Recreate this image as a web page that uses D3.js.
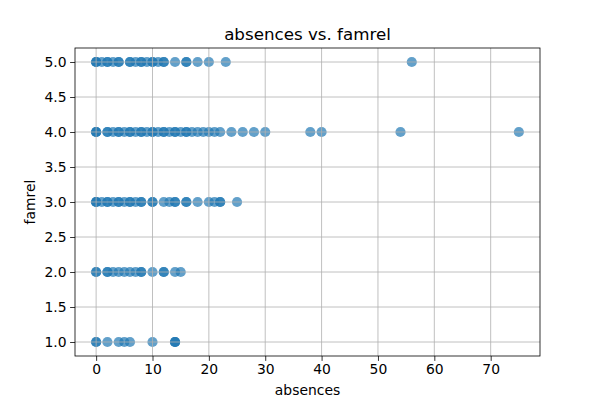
<!DOCTYPE html>
<html><head><meta charset="utf-8">
<script src="https://cdn.jsdelivr.net/npm/d3@7"></script>
<style>body{margin:0;background:#fff}svg{display:block}text{font-family:"DejaVu Sans",sans-serif;fill:#000}</style>
</head><body><svg id="c" width="600" height="400"></svg>
<script>
// absences values observed for each famrel level (duplicates = overlapping darker marks)
const famrel1 = [0,0,2,4,5,6,10,14,14,14];
const famrel2 = [0,0,2,2,3,4,5,6,7,8,8,10,12,12,14,15];
const famrel3 = [0,0,0,1,2,2,3,4,4,5,6,6,7,8,8,10,10,12,13,14,14,16,16,18,20,21,22,22,25];
const famrel4 = [0,0,0,2,2,3,4,4,5,6,6,7,8,8,9,10,10,11,12,12,13,14,14,15,16,16,17,18,19,20,21,22,24,26,28,30,38,40,54,75];
const famrel5 = [0,0,0,1,2,2,3,4,4,6,6,7,8,8,9,10,10,11,12,12,14,16,16,18,20,23,56];
const levels = [1,2,3,4,5];
const xTicks = [0,10,20,30,40,50,60,70];
const yTicks = [1.0,1.5,2.0,2.5,3.0,3.5,4.0,4.5,5.0];

const rows = [famrel1,famrel2,famrel3,famrel4,famrel5];
const points = [];
rows.forEach((r,i)=>r.forEach(a=>points.push({x:a,y:levels[i]})));

const W=600,H=400,L=75,R=540,T=48,B=356;
const svg=d3.select("#c");
const xMin=d3.min(points,d=>d.x), xMax=d3.max(points,d=>d.x);
const yMin=d3.min(points,d=>d.y), yMax=d3.max(points,d=>d.y);
const xp=(xMax-xMin)*0.05, yp=(yMax-yMin)*0.05;
const x=d3.scaleLinear().domain([xMin-xp,xMax+xp]).range([L,R]);
const y=d3.scaleLinear().domain([yMin-yp,yMax+yp]).range([B,T]);

svg.append("g").selectAll("circle").data(points).join("circle")
  .attr("cx",d=>x(d.x)).attr("cy",d=>y(d.y)).attr("r",5.1)
  .attr("fill","#1f77b4").attr("fill-opacity",0.7);

const grid=svg.append("g").attr("stroke","#b0b0b0").attr("stroke-width",0.8);
xTicks.forEach(t=>grid.append("line").attr("x1",x(t)).attr("x2",x(t)).attr("y1",T).attr("y2",B));
yTicks.forEach(t=>grid.append("line").attr("y1",y(t)).attr("y2",y(t)).attr("x1",L).attr("x2",R));

const xa=svg.append("g").attr("transform",`translate(0,${B})`)
  .call(d3.axisBottom(x).tickValues(xTicks).tickFormat(d3.format("d")).tickSize(4.9).tickPadding(3.5));
const ya=svg.append("g").attr("transform",`translate(${L},0)`)
  .call(d3.axisLeft(y).tickValues(yTicks).tickFormat(d3.format(".1f")).tickSize(4.9).tickPadding(3.5));
[xa,ya].forEach(a=>{a.select(".domain").remove();a.selectAll("text").attr("font-size",13.9).attr("font-family","DejaVu Sans");a.selectAll("line").attr("stroke","#000").attr("stroke-width",0.8);});

svg.append("rect").attr("x",L).attr("y",T).attr("width",R-L).attr("height",B-T)
  .attr("fill","none").attr("stroke","#000").attr("stroke-width",0.8);

svg.append("text").attr("x",(L+R)/2).attr("y",40).attr("text-anchor","middle").attr("font-size",16.7).text("absences vs. famrel");
svg.append("text").attr("x",(L+R)/2).attr("y",395).attr("text-anchor","middle").attr("font-size",13.9).text("absences");
svg.append("text").attr("transform",`translate(35,${(T+B)/2}) rotate(-90)`).attr("text-anchor","middle").attr("font-size",13.9).text("famrel");
</script></body></html>
